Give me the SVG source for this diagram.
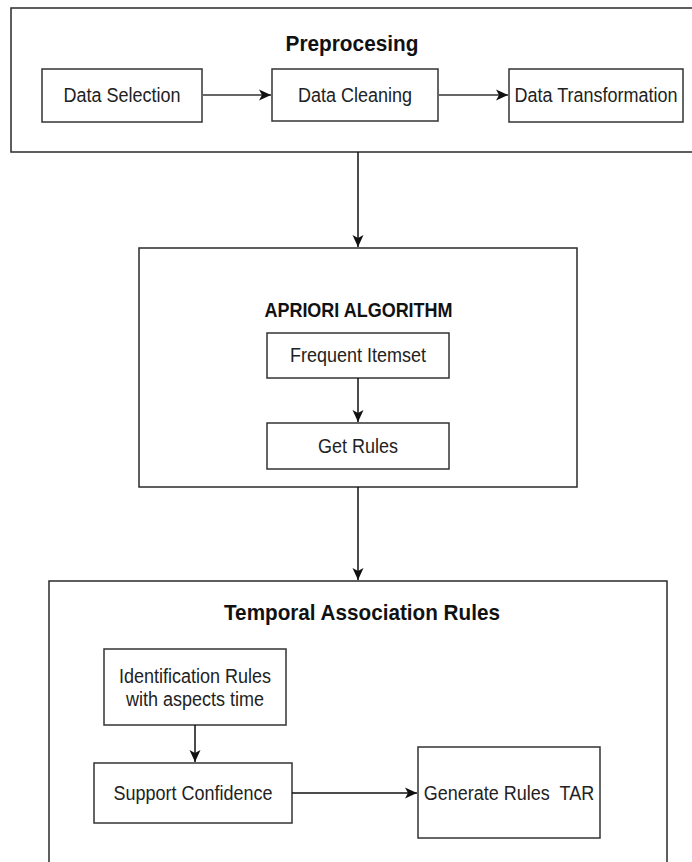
<svg xmlns="http://www.w3.org/2000/svg" width="692" height="862" viewBox="0 0 692 862">
<style>
.box{fill:#fff;stroke:#333;stroke-width:1.5}
.cont{fill:#fff;stroke:#2a2a2a;stroke-width:1.5}
.t{font-family:"Liberation Sans",Arial,sans-serif;font-size:18px;fill:#222;text-anchor:middle}
.h{font-family:"Liberation Sans",Arial,sans-serif;font-weight:bold;fill:#111;text-anchor:middle}
.c{fill:none;stroke:#111;stroke-width:1.5}
.cg{fill:none;stroke:#666;stroke-width:2.2}
</style>
<defs>
<marker id="ah" viewBox="0 0 14 14" refX="13" refY="7" markerWidth="14" markerHeight="14" markerUnits="userSpaceOnUse" orient="auto">
<path d="M1,1.5 L13,7 L1,12.5 L4,7 Z" fill="#111"/>
</marker>
</defs>
<rect width="692" height="862" fill="#fff"/>
<g id="preprocessing">
<rect class="cont" x="11" y="8" width="700" height="144"/>
<text class="h" x="352" y="51" font-size="20.8" transform="matrix(1,0,0,1.1,0,-5.1)">Preprocesing</text>
</g>
<g id="data-selection">
<rect class="box" x="42" y="69" width="160" height="53"/>
<text class="t" x="122" y="102" transform="matrix(1,0,0,1.1,0,-10.2)">Data Selection</text>
</g>
<g id="data-cleaning">
<rect class="box" x="272" y="69" width="166" height="52"/>
<text class="t" x="355" y="102" transform="matrix(1,0,0,1.1,0,-10.2)">Data Cleaning</text>
</g>
<g id="data-transformation">
<rect class="box" x="509" y="69" width="174" height="53"/>
<text class="t" x="596" y="102" transform="matrix(1,0,0,1.1,0,-10.2)">Data Transformation</text>
</g>
<g id="apriori">
<rect class="cont" x="139" y="248" width="438" height="239"/>
<text class="h" x="358.5" y="317" font-size="18" transform="matrix(1,0,0,1.1,0,-31.7)">APRIORI ALGORITHM</text>
</g>
<g id="frequent-itemset">
<rect class="box" x="267" y="333" width="182" height="45"/>
<text class="t" x="358" y="362.5" transform="matrix(1,0,0,1.1,0,-36.25)">Frequent Itemset</text>
</g>
<g id="get-rules">
<rect class="box" x="267" y="423" width="182" height="46"/>
<text class="t" x="358" y="453" transform="matrix(1,0,0,1.1,0,-45.3)">Get Rules</text>
</g>
<g id="temporal">
<rect class="cont" x="49" y="581" width="618" height="300"/>
<text class="h" x="362" y="620" font-size="20.7" transform="matrix(1,0,0,1.1,0,-62)">Temporal Association Rules</text>
</g>
<g id="identification">
<rect class="box" x="104" y="649" width="182" height="76"/>
<text class="t" x="195" y="683" transform="matrix(1,0,0,1.1,0,-68.3)">Identification Rules</text>
<text class="t" x="195" y="706" transform="matrix(1,0,0,1.1,0,-70.6)">with aspects time</text>
</g>
<g id="support-confidence">
<rect class="box" x="94" y="763" width="198" height="60"/>
<text class="t" x="193" y="800" transform="matrix(1,0,0,1.1,0,-80)">Support Confidence</text>
</g>
<g id="generate-rules">
<rect class="box" x="418" y="747" width="182" height="91"/>
<text class="t" x="509" y="800" xml:space="preserve" transform="matrix(1,0,0,1.1,0,-80)">Generate Rules  TAR</text>
</g>
<g id="connectors">
<line class="cg" x1="202" y1="95" x2="271" y2="95" marker-end="url(#ah)"/>
<line class="cg" x1="438" y1="95" x2="508" y2="95" marker-end="url(#ah)"/>
<line class="c" x1="358" y1="152" x2="358" y2="247" marker-end="url(#ah)"/>
<line class="c" x1="358" y1="378" x2="358" y2="422" marker-end="url(#ah)"/>
<line class="c" x1="358" y1="487" x2="358" y2="580" marker-end="url(#ah)"/>
<line class="c" x1="195" y1="725" x2="195" y2="762" marker-end="url(#ah)"/>
<line class="c" x1="292" y1="793" x2="417" y2="793" marker-end="url(#ah)"/>
</g>
</svg>
